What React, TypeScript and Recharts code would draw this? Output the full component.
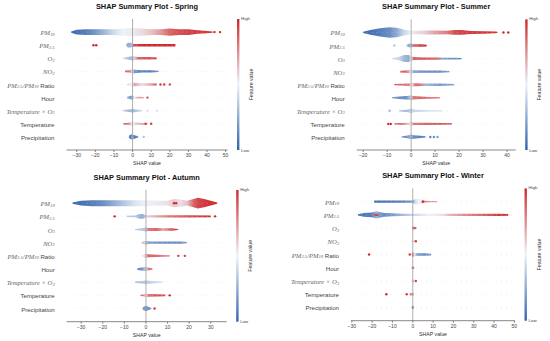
import React from 'react';
import { ComposedChart, Area, Scatter, XAxis, YAxis, ReferenceLine } from 'recharts';

// knot: [SHAP value, feature value (0 = low, 1 = high), point density of the swarm]
type Knot = [number, number, number];
// single point: [SHAP value, feature value]
type Dot = [number, number];

const featureLabels: Array<Array<[string, 'm' | 's' | 't']>> = [
  [['PM', 'm'], ['10', 's']],
  [['PM', 'm'], ['2.5', 's']],
  [['O', 'm'], ['3', 's']],
  [['NO', 'm'], ['2', 's']],
  [['PM', 'm'], ['2.5', 's'], ['/PM', 'm'], ['10', 's'], [' Ratio', 't']],
  [['Hour', 't']],
  [['Temperature × O', 'm'], ['3', 's']],
  [['Temperature', 't']],
  [['Precipitation', 't']],
];

const springBands: Knot[][] = [
  [[-33, 0.02, 1], [-30, 0.05, 4], [-25, 0.1, 5], [-20, 0.18, 5], [-15, 0.3, 5], [-10, 0.42, 5], [-5, 0.5, 6], [0, 0.52, 7], [5, 0.56, 6], [10, 0.62, 5], [15, 0.72, 5], [20, 0.85, 6], [25, 0.9, 5], [30, 0.93, 5], [35, 0.95, 3], [40, 0.97, 2], [43, 0.98, 1]],
  [[-3.5, 0.3, 1], [-2.5, 0.25, 4], [-1, 0.3, 4], [0, 0.35, 3], [0.5, 0.9, 2], [5, 1, 2], [15, 1, 2], [23, 1, 2]],
  [[-5, 0.4, 1], [-3, 0.35, 2], [-1, 0.3, 3], [0, 0.35, 4], [1, 0.6, 3], [3, 0.85, 2], [8, 0.9, 2], [13, 0.95, 1.5]],
  [[-4, 0.9, 1.5], [-1.5, 0.8, 2], [0, 0.5, 4], [1, 0.2, 3], [5, 0.1, 2], [10, 0.1, 2], [14, 0.15, 1]],
  [[-3, 0.4, 1], [-1, 0.5, 3], [0, 0.5, 4], [1, 0.7, 3], [5, 0.55, 2], [10, 0.7, 2], [13, 0.9, 1.5]],
  [[-3, 0.3, 1.5], [-1, 0.2, 3], [0, 0.3, 3.5], [1, 0.5, 2], [3, 0.7, 1.5], [6, 0.75, 1]],
  [[-5, 0.35, 1], [-2, 0.3, 2], [0, 0.3, 3], [2, 0.35, 2], [5, 0.4, 1]],
  [[-5, 0.9, 1], [-3, 0.85, 1.5], [0, 0.5, 3], [2, 0.6, 2], [5, 0.7, 1.5], [8, 0.8, 1]],
  [[-2, 0.15, 2], [-1, 0.1, 4], [0, 0.3, 4.5], [1, 0.1, 3], [3, 0.1, 1]],
];
const springDots: Dot[][] = [
  [[44, 1], [47, 1]],
  [[-21, 1], [-19.5, 1]],
  [],
  [],
  [[15, 0.95], [17, 0.95], [20, 0.9]],
  [[8, 0.9]],
  [[8, 0.45], [13, 0.45]],
  [[7, 0.95], [10, 0.95]],
  [[6, 0.35]],
];

const summerBands: Knot[][] = [
  [[-20, 0.02, 1], [-17, 0.05, 4], [-13, 0.1, 7], [-9, 0.15, 9], [-6, 0.25, 8], [-3, 0.4, 5], [0, 0.5, 3], [2, 0.55, 3], [5, 0.58, 3.5], [10, 0.7, 3.5], [15, 0.8, 3], [18, 0.9, 4], [21, 0.93, 4], [25, 0.95, 2.5], [30, 0.97, 2], [35, 0.98, 1.5], [36, 1, 1]],
  [[-2, 0.3, 1], [-1, 0.25, 3], [0, 0.3, 3.5], [1, 0.85, 2], [4, 0.95, 2], [6.5, 1, 1.5]],
  [[-8, 0.45, 1], [-5, 0.4, 3], [-3, 0.3, 6], [-1, 0.25, 6], [0, 0.5, 4], [1, 0.85, 2.5], [5, 0.9, 2], [11, 0.85, 2], [13, 0.2, 1.5], [18, 0.15, 1.5], [21, 0.1, 1]],
  [[-4.5, 0.9, 1.5], [-2, 0.85, 2], [0, 0.5, 3.5], [1, 0.25, 2.5], [5, 0.15, 2], [12, 0.15, 2], [16, 0.2, 1]],
  [[-7, 0.9, 1], [-4, 0.85, 1.5], [-1, 0.8, 2], [0, 0.5, 3], [2, 0.85, 2.5], [4, 0.8, 2], [6, 0.3, 2], [12, 0.2, 2], [18, 0.2, 1]],
  [[-8, 0.2, 1], [-5, 0.15, 2], [-2, 0.15, 3], [0, 0.4, 4], [1, 0.8, 3], [4, 0.85, 2], [8, 0.8, 1.5], [12, 0.9, 1]],
  [[-5, 0.35, 1], [-2, 0.3, 2], [0, 0.4, 3.5], [2, 0.4, 2], [8, 0.45, 1.5], [13, 0.45, 1]],
  [[-7, 0.9, 1], [-4, 0.85, 1.5], [-1, 0.6, 2], [0, 0.5, 3], [1, 0.8, 2], [6, 0.85, 2], [12, 0.9, 1.5], [17, 0.95, 1]],
  [[-4, 0.2, 1], [-2, 0.15, 2], [0, 0.3, 4], [1, 0.15, 3], [4, 0.1, 2], [6, 0.1, 1]],
];
const summerDots: Dot[][] = [
  [[38.5, 1], [40.5, 1]],
  [[-7, 0.35]],
  [],
  [],
  [],
  [],
  [[-9, 0.3]],
  [[-9.5, 1], [-8.5, 1]],
  [[8, 0.1], [9.5, 0.15], [11, 0.2]],
];

const autumnBands: Knot[][] = [
  [[-34, 0.02, 1], [-30, 0.05, 4], [-25, 0.1, 5], [-20, 0.15, 5], [-15, 0.25, 5], [-10, 0.35, 5], [-5, 0.45, 5], [0, 0.5, 5], [5, 0.52, 4], [10, 0.55, 4], [13, 0.6, 7], [16, 0.55, 6], [19, 0.62, 4], [22, 0.85, 7], [24, 0.92, 9], [27, 0.95, 7], [30, 0.98, 4], [33, 1, 1]],
  [[-9, 0.35, 1], [-5, 0.35, 1.5], [-3, 0.3, 4], [-1.5, 0.25, 4], [0, 0.4, 2], [1, 0.6, 2], [10, 0.8, 2], [20, 0.9, 2], [30, 1, 1.5]],
  [[-5, 0.35, 1], [-2, 0.35, 2], [0, 0.35, 3.5], [1, 0.8, 2.5], [5, 0.85, 2.5], [8, 0.7, 2], [12, 0.9, 2], [15, 0.95, 1]],
  [[-2, 0.7, 1], [-0.5, 0.6, 3], [0.5, 0.3, 3], [2, 0.2, 2], [10, 0.15, 2], [16, 0.15, 2], [19, 0.2, 1]],
  [[-2, 0.5, 1], [0, 0.6, 3.5], [1, 0.85, 2.5], [5, 0.85, 2], [9, 0.75, 1.5], [11, 0.8, 1]],
  [[-4, 0.15, 1.5], [-2, 0.15, 2.5], [0, 0.4, 3.5], [1.5, 0.8, 2], [3, 0.9, 1]],
  [[-5, 0.35, 1.5], [-2, 0.35, 2], [0, 0.35, 3], [3, 0.4, 2], [8, 0.45, 1]],
  [[-2.5, 0.9, 1], [-1, 0.8, 1.5], [0, 0.5, 3], [1, 0.8, 2.5], [5, 0.9, 2], [9, 0.9, 1.5]],
  [[-1.5, 0.2, 2], [0, 0.2, 4.5], [1, 0.15, 3], [2.5, 0.2, 1]],
];
const autumnDots: Dot[][] = [
  [[13, 1], [14, 1]],
  [[-14.5, 1], [32, 1]],
  [],
  [],
  [[15, 0.95], [18, 0.95]],
  [],
  [],
  [[11, 1]],
  [[4, 0.95]],
];

const winterBands: Knot[][] = [
  [[-19, 0.05, 2], [-15, 0.05, 2], [-10, 0.08, 2], [-5, 0.1, 2], [0, 0.2, 2], [1, 0.4, 4], [2.5, 0.5, 5], [4, 0.5, 4], [5, 0.8, 2], [8, 0.75, 1], [12, 0.7, 1]],
  [[-27, 0.05, 1], [-24, 0.08, 3], [-20, 0.1, 4], [-18, 0.3, 6], [-16.5, 0.2, 5], [-14, 0.15, 3], [-10, 0.2, 2.5], [-5, 0.3, 2], [0, 0.4, 2], [8, 0.5, 2], [15, 0.55, 2], [18, 0.65, 2], [25, 0.75, 2], [35, 0.85, 2], [42, 0.95, 2], [47, 1, 1.5]],
  [[-0.5, 0.6, 1], [0, 0.8, 2.5], [1, 0.9, 2], [1.8, 0.95, 1]],
  [[-0.5, 0.6, 1], [0, 0.5, 2], [0.8, 0.7, 1.5]],
  [[-0.5, 0.8, 2], [0, 0.8, 4], [1, 0.5, 3], [2, 0.2, 2], [6, 0.15, 2], [9, 0.2, 1.5]],
  [[-0.5, 0.8, 1.5], [0, 0.85, 2.5], [0.7, 0.8, 1.5]],
  [[-0.5, 0.5, 1.5], [0, 0.6, 2.5], [0.7, 0.7, 1.5]],
  [[-1.5, 0.85, 1.5], [0, 0.7, 2.5], [0.7, 0.6, 1.5]],
  [[-0.5, 0.1, 1.5], [0, 0.1, 2.5], [0.5, 0.1, 1.5]],
];
const winterDots: Dot[][] = [
  [[5, 1]],
  [[-17.5, 0.95], [-18.3, 0.95]],
  [],
  [[1.5, 0.95]],
  [[-21.5, 1], [-1.5, 0.95]],
  [],
  [[1.5, 0.95]],
  [[-13, 1], [-3, 0.95]],
  [],
];

const springTicks = [-30, -20, -10, 0, 10, 20, 30, 40, 50];
const summerTicks = [-20, -10, 0, 10, 20, 30, 40];
const autumnTicks = [-30, -20, -10, 0, 10, 20, 30];
const winterTicks = [-30, -20, -10, 0, 10, 20, 30, 40, 50];

const rowIndex = [0, 1, 2, 3, 4, 5, 6, 7, 8];

const LOW = [48, 98, 172];
const MID = [238, 243, 248];
const HIGH = [206, 40, 44];
function mix(a: number[], b: number[], t: number) {
  const c = a.map((v, i) => Math.round(v + (b[i] - v) * t));
  return `rgb(${c[0]},${c[1]},${c[2]})`;
}
function colorOf(v: number) {
  return v < 0.5 ? mix(LOW, MID, v * 2) : mix(MID, HIGH, (v - 0.5) * 2);
}

const DENSITY_TO_ROW = 0.045;
const SANS = '"Liberation Sans", Arial, Helvetica, sans-serif';
const SERIF = '"Liberation Serif", "Times New Roman", serif';
const AXH = 18;

function fmtTick(v: number) {
  return v < 0 ? '\u2212' + Math.abs(v) : String(v);
}

function FeatureTick(props: any) {
  const { x, y, payload } = props;
  const parts = featureLabels[payload.value] || [];
  let sub = false;
  return (
    <text x={x} y={y} textAnchor="end" dominantBaseline="central" fill="#444">
      {parts.map(([s, k], i) => {
        let dy = 0;
        if (k === 's' && !sub) { dy = 1.6; sub = true; }
        else if (k !== 's' && sub) { dy = -1.6; sub = false; }
        if (k === 's') return <tspan key={i} dy={dy} fontSize={4.6} fontFamily={SERIF} fontStyle="italic" fill="#666">{s}</tspan>;
        if (k === 'm') return <tspan key={i} dy={dy} fontSize={6.6} fontFamily={SERIF} fontStyle="italic" fill="#666">{s}</tspan>;
        return <tspan key={i} dy={dy} fontSize={6.1} fontFamily={SANS} fill="#444">{s}</tspan>;
      })}
    </text>
  );
}

type PanelProps = {
  id: string; title: string; bands: Knot[][]; dots: Dot[][]; ticks: number[]; domain: [number, number];
  left: number; top: number; w: number; h: number; pl: number; pr: number; pt: number; pb: number;
};

function Panel(p: PanelProps) {
  const dotData = p.dots.flatMap((row, r) => row.map(([x, c]) => ({ x, y: r, c })));
  const cbX = p.pr + 9.5;
  return (
    <div style={{ position: 'absolute', left: p.left, top: p.top, width: p.w, height: p.h }}>
      <div style={{ position: 'absolute', left: 0, top: 0 }}>
        <ComposedChart width={p.w} height={p.h} margin={{ top: p.pt, right: p.w - p.pr, bottom: p.h - p.pb - AXH, left: 0 }}>
          <defs>
            {p.bands.map((knots, r) => {
              const minX = knots[0][0];
              const maxX = knots[knots.length - 1][0];
              return (
                <linearGradient key={r} id={`${p.id}-g${r}`} x1="0" y1="0" x2="1" y2="0">
                  {knots.map(([x, c], i) => (
                    <stop key={i} offset={(x - minX) / (maxX - minX)} stopColor={colorOf(c)} />
                  ))}
                </linearGradient>
              );
            })}
          </defs>
          <XAxis type="number" dataKey="x" domain={p.domain} allowDataOverflow ticks={p.ticks} interval={0}
            tickFormatter={fmtTick} height={AXH} tickSize={2} tickMargin={1.5}
            tick={{ fontSize: 5, fill: '#444', fontFamily: SANS }}
            stroke="#555" strokeWidth={0.7}
            label={{ value: 'SHAP value', position: 'insideBottom', offset: 3, fontSize: 5.2, fill: '#333', fontFamily: SANS }} />
          <YAxis type="number" domain={[-1, 9]} reversed allowDataOverflow ticks={rowIndex} interval={0}
            width={p.pl} axisLine={false} tickLine={false} tickSize={0} tickMargin={12} tick={<FeatureTick />} />
          {rowIndex.map((r) => (
            <ReferenceLine key={'h' + r} y={r} stroke="#d8d8d8" strokeWidth={0.4} strokeDasharray="1 4" />
          ))}
          <ReferenceLine x={0} stroke="#9a9a9a" strokeWidth={0.8} />
          {p.bands.map((knots, r) => (
            <Area key={r} data={knots.map(([x, , d]) => ({ x, v: [r - d * DENSITY_TO_ROW, r + d * DENSITY_TO_ROW] }))}
              dataKey="v" type="linear" stroke="none" fill={`url(#${p.id}-g${r})`} fillOpacity={1}
              dot={false} activeDot={false} isAnimationActive={false} />
          ))}
          <Scatter data={dotData} dataKey="y" isAnimationActive={false}
            shape={(s: any) => <circle cx={s.cx} cy={s.cy} r={1.2} fill={colorOf(s.payload.c)} />} />
        </ComposedChart>
      </div>
      <div style={{ position: 'absolute', left: 0, width: (p.pl + p.pr), top: p.pt - 17, textAlign: 'center',
        fontFamily: SANS, fontWeight: 'bold', fontSize: 7.4, color: '#111', lineHeight: '10px', whiteSpace: 'nowrap' }}>
        {p.title}
      </div>
      <svg style={{ position: 'absolute', left: 0, top: 0 }} width={p.w} height={p.h}>
        <defs>
          <linearGradient id={`${p.id}-cb`} x1="0" y1="1" x2="0" y2="0">
            <stop offset="0" stopColor={colorOf(0)} />
            <stop offset="0.25" stopColor={colorOf(0.25)} />
            <stop offset="0.5" stopColor={colorOf(0.5)} />
            <stop offset="0.75" stopColor={colorOf(0.75)} />
            <stop offset="1" stopColor={colorOf(1)} />
          </linearGradient>
        </defs>
        <rect x={cbX} y={p.pt} width={2.4} height={p.pb - p.pt} fill={`url(#${p.id}-cb)`} />
        <text x={cbX + 4} y={p.pt + 1} fontSize={4.4} fontFamily={SANS} fill="#444">High</text>
        <text x={cbX + 4} y={p.pb + 1.5} fontSize={4.4} fontFamily={SANS} fill="#444">Low</text>
        <text x={0} y={0} fontSize={5.2} fontFamily={SANS} fill="#333" textAnchor="middle"
          transform={`translate(${cbX + 16},${(p.pt + p.pb) / 2}) rotate(-90)`}>Feature value</text>
      </svg>
    </div>
  );
}

export default function App() {
  return (
    <div style={{ position: 'absolute', left: 0, top: 0, width: 550, height: 341, background: '#fff', overflow: 'hidden' }}>
      <Panel id="spring" title="SHAP Summary Plot - Spring" bands={springBands} dots={springDots} ticks={springTicks}
        domain={[-35.5, 51]} left={0} top={0} w={275} h={170} pl={66.5} pr={227.5} pt={19} pb={150} />
      <Panel id="summer" title="SHAP Summary Plot - Summer" bands={summerBands} dots={summerDots} ticks={summerTicks}
        domain={[-22.7, 43.6]} left={275} top={0} w={275} h={170} pl={81.7} pr={240.7} pt={19.4} pb={150} />
      <Panel id="autumn" title="SHAP Summary Plot - Autumn" bands={autumnBands} dots={autumnDots} ticks={autumnTicks}
        domain={[-36.7, 37.4]} left={0} top={170} w={275} h={171} pl={66.7} pr={226.7} pt={20} pb={151.7} />
      <Panel id="winter" title="SHAP Summary Plot - Winter" bands={winterBands} dots={winterDots} ticks={winterTicks}
        domain={[-30.4, 50.3]} left={275} top={170} w={275} h={171} pl={76} pr={240} pt={18.4} pb={150.7} />
    </div>
  );
}
